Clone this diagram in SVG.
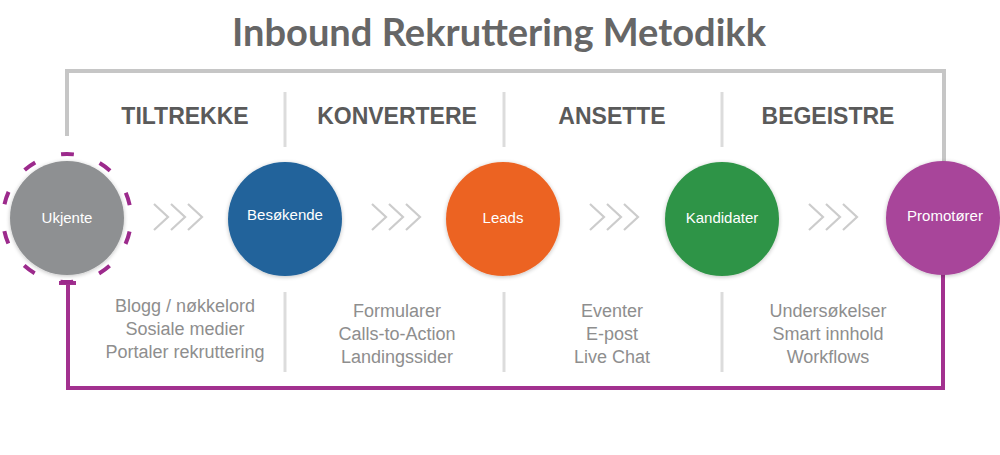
<svg xmlns="http://www.w3.org/2000/svg" width="1000" height="455" viewBox="0 0 1000 455">
  <defs>
    <style>
      .title { font-family: Lato, "Liberation Sans", sans-serif; font-weight: 700; font-size: 38px; fill: #666666; }
      .head { font-family: "Liberation Sans", Arial, sans-serif; font-weight: 700; font-size: 23px; fill: #5a5a5a; text-anchor: middle; }
      .item { font-family: "Liberation Sans", Arial, sans-serif; font-size: 18px; fill: #8e8e8e; text-anchor: middle; }
      .lbl { font-family: "Liberation Sans", Arial, sans-serif; font-size: 15px; fill: #ffffff; text-anchor: middle; }
      .frame { fill: none; stroke: #c6c6c6; stroke-width: 4; }
      .div { stroke: #dcdcdc; stroke-width: 3; }
      .loop { fill: none; stroke: #a2318f; stroke-width: 4; }
      .chev { fill: none; stroke: #cccccc; stroke-width: 2.2; }
    </style>
    <filter id="sh" x="-20%" y="-20%" width="140%" height="140%">
      <feGaussianBlur in="SourceAlpha" stdDeviation="2"/>
      <feOffset dx="0" dy="1" result="b"/>
      <feComponentTransfer><feFuncA type="linear" slope="0.25"/></feComponentTransfer>
      <feMerge><feMergeNode/><feMergeNode in="SourceGraphic"/></feMerge>
    </filter>
    <g id="chevs">
      <polyline class="chev" points="-24,-13 -10,0 -24,13"/>
      <polyline class="chev" points="-7,-13 7,0 -7,13"/>
      <polyline class="chev" points="10,-13 24,0 10,13"/>
    </g>
  </defs>

  <rect width="1000" height="455" fill="#ffffff"/>

  <text class="title" x="499" y="46" text-anchor="middle" textLength="534" lengthAdjust="spacingAndGlyphs">Inbound Rekruttering Metodikk</text>

  <g id="connectors">
    <polyline class="frame" points="67,136 67,71 944,71 944,162"/>
    <line class="div" x1="285" y1="92" x2="285" y2="147"/>
    <line class="div" x1="504" y1="92" x2="504" y2="147"/>
    <line class="div" x1="722" y1="92" x2="722" y2="147"/>
    <line class="div" x1="285" y1="292" x2="285" y2="372"/>
    <line class="div" x1="504" y1="292" x2="504" y2="372"/>
    <line class="div" x1="722" y1="292" x2="722" y2="372"/>
    <line class="loop" x1="59" y1="283" x2="76" y2="283"/>
    <polyline class="loop" points="68,283 68,388 943,388 943,274"/>
    <use href="#chevs" x="178" y="217"/>
    <use href="#chevs" x="396" y="217"/>
    <use href="#chevs" x="614" y="217"/>
    <use href="#chevs" x="833" y="217"/>
  </g>

  <g id="headers">
    <text class="head" x="185" y="124">TILTREKKE</text>
    <text class="head" x="397" y="124">KONVERTERE</text>
    <text class="head" x="612" y="124">ANSETTE</text>
    <text class="head" x="828" y="124">BEGEISTRE</text>
  </g>

  <g id="node-ukjente">
    <circle cx="67" cy="218" r="64" fill="none" stroke="#9c2a8c" stroke-width="4" stroke-dasharray="13 27.21" stroke-dashoffset="-13.6"/>
    <circle cx="67" cy="218" r="57" fill="#8e9092" filter="url(#sh)"/>
    <text class="lbl" x="67" y="223" font-size="14">Ukjente</text>
  </g>
  <g id="node-besokende">
    <circle cx="285" cy="219" r="57" fill="#21639b" filter="url(#sh)"/>
    <text class="lbl" x="285" y="220">Besøkende</text>
  </g>
  <g id="node-leads">
    <circle cx="503" cy="219" r="57" fill="#ec6424" filter="url(#sh)"/>
    <text class="lbl" x="503" y="223">Leads</text>
  </g>
  <g id="node-kandidater">
    <circle cx="722" cy="219" r="57" fill="#2f9446" filter="url(#sh)"/>
    <text class="lbl" x="722" y="223">Kandidater</text>
  </g>
  <g id="node-promotorer">
    <circle cx="943" cy="218" r="57" fill="#a8449a" filter="url(#sh)"/>
    <text class="lbl" x="945" y="221">Promotører</text>
  </g>

  <g id="items">
    <text class="item" x="185" y="312">Blogg / nøkkelord</text>
    <text class="item" x="185" y="335">Sosiale medier</text>
    <text class="item" x="185" y="358">Portaler rekruttering</text>
    <text class="item" x="397" y="317">Formularer</text>
    <text class="item" x="397" y="340">Calls-to-Action</text>
    <text class="item" x="397" y="363">Landingssider</text>
    <text class="item" x="612" y="317">Eventer</text>
    <text class="item" x="612" y="340">E-post</text>
    <text class="item" x="612" y="363">Live Chat</text>
    <text class="item" x="828" y="317">Undersøkelser</text>
    <text class="item" x="828" y="340">Smart innhold</text>
    <text class="item" x="828" y="363">Workflows</text>
  </g>
</svg>
